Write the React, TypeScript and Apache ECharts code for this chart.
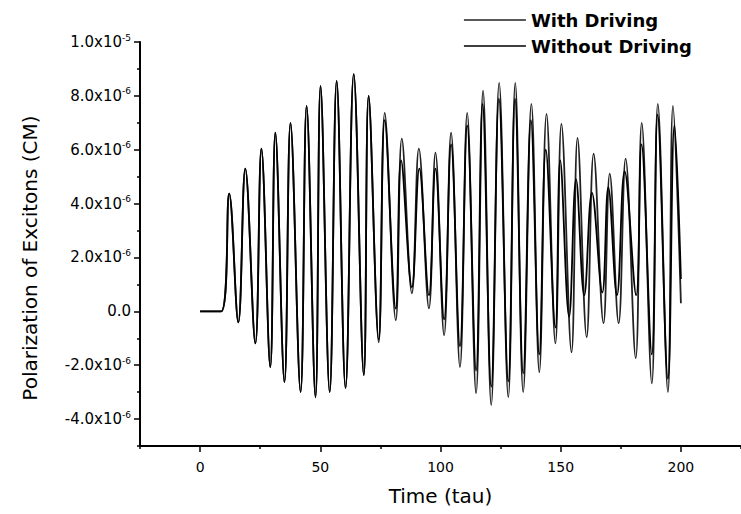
import React, { useEffect, useRef } from "react";
import * as echarts from "echarts";

// Time (tau) of each turning point, With Driving
const tDriving = [0, 8.8, 12.1, 15.9, 18.8, 23.0, 25.5, 29.2, 31.3, 35.1, 37.6, 41.8, 44.3, 48.0, 50.1, 53.9, 56.8, 60.5, 63.9, 68.1, 70.1, 74.3, 76.8, 81.4, 83.9, 88.1, 91.0, 95.2, 97.9, 101.5, 104.4, 108.1, 111.1, 114.8, 117.7, 121.1, 124.4, 128.2, 131.1, 134.4, 137.8, 141.1, 144.1, 147.8, 150.3, 154.5, 157.0, 160.8, 163.7, 167.8, 170.4, 174.1, 177.0, 181.2, 183.7, 187.9, 190.4, 194.6, 196.7, 200];
// Polarization in units of 1e-6 (CM), With Driving
const pDriving = [0, 0, 4.37, -0.41, 5.3, -1.19, 6.04, -2.07, 6.63, -2.63, 7.0, -3.0, 7.63, -3.19, 8.37, -3.0, 8.56, -2.85, 8.81, -2.37, 8.0, -1.15, 7.37, -0.33, 6.41, 0.67, 6.04, 0.11, 5.89, -0.89, 6.63, -2.07, 7.37, -3.04, 8.19, -3.48, 8.48, -3.19, 8.48, -3.0, 7.7, -2.26, 7.33, -1.19, 6.96, -1.52, 6.44, -0.96, 5.85, -0.44, 5.11, -0.44, 5.67, -1.74, 7.0, -2.67, 7.7, -3.0, 7.63, 0.3];

// Without Driving
const tFree = [0, 8.8, 12.1, 15.9, 18.8, 23.0, 25.5, 29.2, 31.3, 35.1, 37.6, 41.8, 44.3, 48.0, 50.1, 53.9, 56.8, 60.5, 63.9, 68.1, 70.1, 74.3, 76.8, 81.4, 83.6, 88.1, 91.2, 95.2, 97.9, 101.5, 104.4, 108.1, 111.1, 114.8, 117.5, 121.1, 124.3, 128.2, 131.0, 134.4, 137.6, 141.1, 143.8, 147.8, 149.8, 153.5, 156.4, 159.8, 163.0, 167.3, 169.8, 173.4, 176.6, 181.4, 183.6, 187.9, 190.3, 194.6, 197.3, 200];
const pFree = [0, 0, 4.37, -0.41, 5.3, -1.19, 6.04, -2.07, 6.63, -2.63, 7.0, -3.0, 7.63, -3.19, 8.37, -3.0, 8.56, -2.85, 8.81, -2.37, 8.0, -1.05, 7.1, 0.1, 5.6, 0.9, 5.3, 0.6, 5.3, -0.3, 6.2, -1.3, 6.9, -2.2, 7.7, -2.8, 7.9, -2.6, 7.9, -2.3, 7.1, -1.6, 6.0, -0.6, 5.6, -0.2, 4.9, 0.6, 4.4, 0.7, 4.6, 0.6, 5.2, 0.6, 6.2, -1.6, 7.3, -2.5, 6.9, 1.2];

const seriesNames = ["With Driving", "Without Driving"];
const xMajorTicks = [0, 50, 100, 150, 200];
const xMinorTicks = [-25, 25, 75, 125, 175, 225];
const yMajorTicks = [-4, -2, 0, 2, 4, 6, 8, 10];
const yMinorTicks = [-5, -3, -1, 1, 3, 5, 7, 9];
const yTitle = "Polarization of Excitons (CM)";
const xTitle = "Time (tau)";

const FONT = "'DejaVu Sans', 'Liberation Sans', Arial, sans-serif";

function yLabel(v: number): string {
  if (Math.abs(v) < 1e-9) return "{m|0.0}";
  if (Math.abs(v - 10) < 1e-9) return "{m|1.0x10}{s|-5}";
  return `{m|${v.toFixed(1)}x10}{s|-6}`;
}

export default function App() {
  const ref = useRef<HTMLDivElement>(null);
  useEffect(() => {
    document.body.style.margin = "0";
    const chart = echarts.init(ref.current!, null, { renderer: "svg" });
    const gridRect = { left: 140, right: 0, top: 42, bottom: 68 };
    const dDrive = tDriving.map((t, i) => [t, pDriving[i]]);
    const dFree = tFree.map((t, i) => [t, pFree[i]]);
    chart.setOption({
      animation: false,
      backgroundColor: "#fff",
      grid: [gridRect, gridRect],
      legend: {
        orient: "vertical",
        right: 44,
        top: 6,
        align: "left",
        icon: "rect",
        itemWidth: 62,
        itemHeight: 1.5,
        itemGap: 8,
        textStyle: { fontFamily: FONT, fontSize: 18, fontWeight: "bold", color: "#000" },
        data: seriesNames,
      },
      graphic: [
        {
          type: "text",
          x: 30,
          y: 258,
          rotation: Math.PI / 2,
          style: {
            text: yTitle,
            font: `20px ${FONT}`,
            fill: "#000",
            align: "center",
            verticalAlign: "middle",
          },
        },
      ],
      xAxis: [
        {
          gridIndex: 0,
          type: "value",
          min: -25,
          max: 225,
          axisLine: { show: true, onZero: false, lineStyle: { color: "#000", width: 2 } },
          axisTick: { show: true, customValues: xMinorTicks, length: 3, lineStyle: { color: "#000", width: 1.5 } },
          axisLabel: { show: false },
          splitLine: { show: false },
        },
        {
          gridIndex: 1,
          type: "value",
          min: -25,
          max: 225,
          axisLine: { show: false, onZero: false },
          axisTick: { show: true, customValues: xMajorTicks, length: 6, lineStyle: { color: "#000", width: 1.5 } },
          axisLabel: {
            customValues: xMajorTicks,
            margin: 14,
            fontFamily: FONT,
            fontSize: 14,
            color: "#000",
          },
          splitLine: { show: false },
          name: xTitle,
          nameLocation: "middle",
          nameGap: 40,
          nameTextStyle: { fontFamily: FONT, fontSize: 20, color: "#000" },
        },
      ],
      yAxis: [
        {
          gridIndex: 0,
          type: "value",
          min: -5,
          max: 10,
          axisLine: { show: true, onZero: false, lineStyle: { color: "#000", width: 2 } },
          axisTick: { show: true, customValues: yMinorTicks, length: 3, lineStyle: { color: "#000", width: 1.5 } },
          axisLabel: { show: false },
          splitLine: { show: false },
        },
        {
          gridIndex: 1,
          type: "value",
          min: -5,
          max: 10,
          axisLine: { show: false, onZero: false },
          axisTick: { show: true, customValues: yMajorTicks, length: 6, lineStyle: { color: "#000", width: 1.5 } },
          axisLabel: {
            customValues: yMajorTicks,
            formatter: yLabel,
            margin: 9,
            color: "#000",
            rich: {
              m: { fontFamily: FONT, fontSize: 15, color: "#000", lineHeight: 18 },
              s: { fontFamily: FONT, fontSize: 9, color: "#000", verticalAlign: "top", lineHeight: 12 },
            },
          },
          splitLine: { show: false },
        },
      ],
      series: [
        {
          name: seriesNames[0],
          type: "line",
          xAxisIndex: 0,
          yAxisIndex: 0,
          data: dDrive,
          showSymbol: false,
          smooth: 0.4,
          color: "#222",
          lineStyle: { color: "#222", width: 1.8 },
        },
        {
          name: seriesNames[1],
          type: "line",
          xAxisIndex: 0,
          yAxisIndex: 0,
          data: dFree,
          showSymbol: false,
          smooth: 0.4,
          color: "#000",
          lineStyle: { color: "#000", width: 1.8 },
        },
      ],
    });
    return () => chart.dispose();
  }, []);
  return <div ref={ref} style={{ position: "fixed", left: 0, top: 0, width: 741, height: 514 }} />;
}
